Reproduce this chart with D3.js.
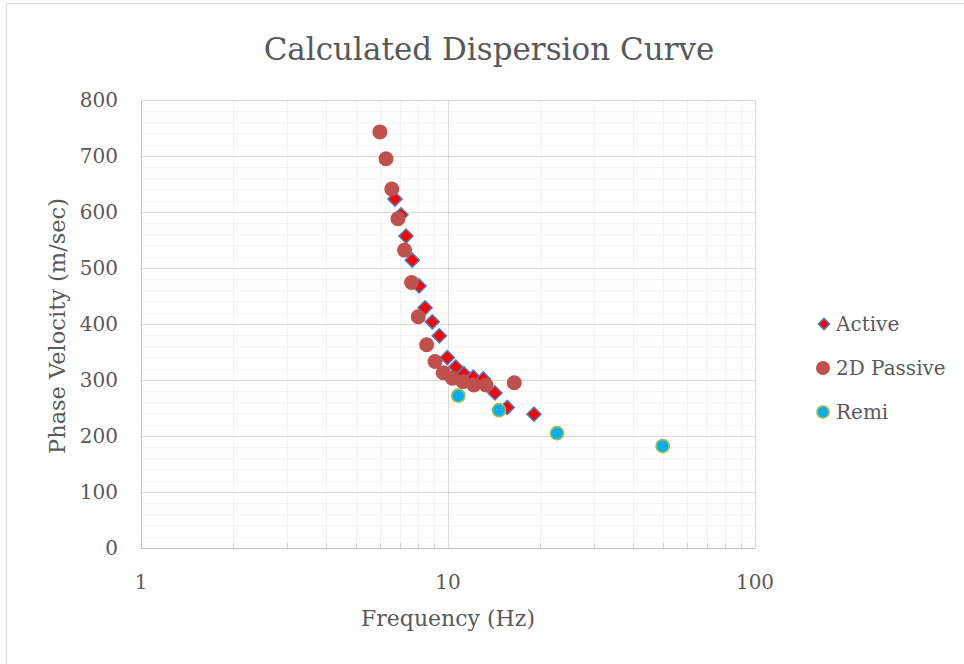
<!DOCTYPE html>
<html>
<head>
<meta charset="utf-8">
<script src="https://cdn.jsdelivr.net/npm/d3@7"></script>
<style>
  body { margin: 0; background: #fff; }
  text { font-family: "DejaVu Serif", serif; fill: #595959; }
</style>
</head>
<body>
<div id="chart"></div>
<script>
// data
const activeFreq = [6.72, 7.03, 7.30, 7.65, 8.05, 8.42, 8.89, 9.37, 9.95, 10.6, 11.27, 12.09, 13.03, 14.22, 15.6, 19.06];
const activeVel  = [623, 595, 557, 514, 468, 429, 404, 379, 340, 323, 311, 305, 302, 277, 251, 239];

const passiveFreq = [6.0, 6.28, 6.56, 6.87, 7.22, 7.61, 8.0, 8.52, 9.07, 9.65, 10.33, 11.2, 12.15, 13.3, 16.44];
const passiveVel  = [743, 695, 641, 588, 532, 474, 413, 363, 333, 313, 303, 297, 291, 291, 295];

const remiFreq = [10.8, 14.66, 22.65, 50.05];
const remiVel  = [272, 246, 205, 182];

const yTicks = [0, 100, 200, 300, 400, 500, 600, 700, 800];
const xTicks = [1, 10, 100];
const seriesNames = ["Active", "2D Passive", "Remi"];

const width = 964, height = 664;
const svg = d3.select("#chart").append("svg")
    .attr("width", width)
    .attr("height", height);

// chart frame
svg.append("rect")
    .attr("x", 6.5).attr("y", 3.5)
    .attr("width", 1000).attr("height", 700)
    .attr("fill", "none")
    .attr("stroke", "#d9d9d9");

const x = d3.scaleLog().domain([1, 100]).range([141, 755]);
const y = d3.scaleLinear().domain([0, 800]).range([548, 100]);

// minor grid
const yMinor = d3.range(0, 801, 20).filter(v => v % 100 !== 0);
svg.append("g").selectAll("line").data(yMinor).join("line")
    .attr("x1", x(1)).attr("x2", x(100))
    .attr("y1", d => y(d) + 0.5).attr("y2", d => y(d) + 0.5)
    .attr("stroke", "#f2f2f2");

const xMinor = [2, 3, 4, 5, 6, 7, 8, 9, 20, 30, 40, 50, 60, 70, 80, 90];
svg.append("g").selectAll("line").data(xMinor).join("line")
    .attr("x1", d => Math.round(x(d)) + 0.5).attr("x2", d => Math.round(x(d)) + 0.5)
    .attr("y1", y(0)).attr("y2", y(800))
    .attr("stroke", "#f2f2f2");

// major grid
svg.append("g").selectAll("line").data(yTicks.slice(1)).join("line")
    .attr("x1", x(1)).attr("x2", x(100))
    .attr("y1", d => y(d) + 0.5).attr("y2", d => y(d) + 0.5)
    .attr("stroke", "#d9d9d9");

svg.append("g").selectAll("line").data([10, 100]).join("line")
    .attr("x1", d => Math.round(x(d)) + 0.5).attr("x2", d => Math.round(x(d)) + 0.5)
    .attr("y1", y(0)).attr("y2", y(800))
    .attr("stroke", "#d9d9d9");

// minor ticks inside at the bottom
svg.append("g").selectAll("line").data(xMinor).join("line")
    .attr("x1", d => Math.round(x(d)) + 0.5).attr("x2", d => Math.round(x(d)) + 0.5)
    .attr("y1", y(0) - 5).attr("y2", y(0))
    .attr("stroke", "#d0d0d0");

// axis lines
svg.append("line")
    .attr("x1", x(1)).attr("x2", x(100))
    .attr("y1", y(0) + 0.5).attr("y2", y(0) + 0.5)
    .attr("stroke", "#bfbfbf");
svg.append("line")
    .attr("x1", x(1) + 0.5).attr("x2", x(1) + 0.5)
    .attr("y1", y(0)).attr("y2", y(800))
    .attr("stroke", "#bfbfbf");

// tick labels
svg.append("g").selectAll("text").data(yTicks).join("text")
    .attr("x", 118)
    .attr("y", d => y(d) + 7)
    .attr("text-anchor", "end")
    .attr("font-size", 20)
    .text(d => d);

svg.append("g").selectAll("text").data(xTicks).join("text")
    .attr("x", d => x(d))
    .attr("y", 589)
    .attr("text-anchor", "middle")
    .attr("font-size", 20)
    .text(d => d);

// titles
svg.append("text")
    .attr("x", 489).attr("y", 60)
    .attr("text-anchor", "middle")
    .attr("font-size", 31)
    .text("Calculated Dispersion Curve");

svg.append("text")
    .attr("x", 448).attr("y", 626)
    .attr("text-anchor", "middle")
    .attr("font-size", 22)
    .text("Frequency (Hz)");

svg.append("text")
    .attr("transform", "translate(65,326) rotate(-90)")
    .attr("text-anchor", "middle")
    .attr("font-size", 22.5)
    .text("Phase Velocity (m/sec)");

// series
const diamond = d3.symbol().type(d3.symbolSquare).size(100)();

const active = activeFreq.map((f, i) => ({ f: f, v: activeVel[i] }));
const passive = passiveFreq.map((f, i) => ({ f: f, v: passiveVel[i] }));
const remi = remiFreq.map((f, i) => ({ f: f, v: remiVel[i] }));

svg.append("g").selectAll("path").data(active).join("path")
    .attr("d", diamond)
    .attr("transform", d => `translate(${x(d.f)},${y(d.v)}) rotate(45)`)
    .attr("fill", "#ff0000")
    .attr("stroke", "#4a7ebb")
    .attr("stroke-width", 1.5);

svg.append("g").selectAll("circle").data(passive).join("circle")
    .attr("cx", d => x(d.f))
    .attr("cy", d => y(d.v))
    .attr("r", 7.5)
    .attr("fill", "#c0504d");

svg.append("g").selectAll("circle").data(remi).join("circle")
    .attr("cx", d => x(d.f))
    .attr("cy", d => y(d.v))
    .attr("r", 6.5)
    .attr("fill", "#00b0f0")
    .attr("stroke", "#9bbb59")
    .attr("stroke-width", 1.75);

// legend
const legend = svg.append("g");
seriesNames.forEach((name, i) => {
    const ly = 324 + i * 44;
    if (i === 0) {
        legend.append("path")
            .attr("d", d3.symbol().type(d3.symbolSquare).size(64)())
            .attr("transform", `translate(824,${ly}) rotate(45)`)
            .attr("fill", "#ff0000")
            .attr("stroke", "#4a7ebb")
            .attr("stroke-width", 1.5);
    } else if (i === 1) {
        legend.append("circle")
            .attr("cx", 823).attr("cy", ly).attr("r", 7)
            .attr("fill", "#c0504d");
    } else {
        legend.append("circle")
            .attr("cx", 823).attr("cy", ly).attr("r", 6)
            .attr("fill", "#00b0f0")
            .attr("stroke", "#9bbb59")
            .attr("stroke-width", 1.75);
    }
    legend.append("text")
        .attr("x", 836).attr("y", ly + 7)
        .attr("font-size", 20)
        .text(name);
});
</script>
</body>
</html>
